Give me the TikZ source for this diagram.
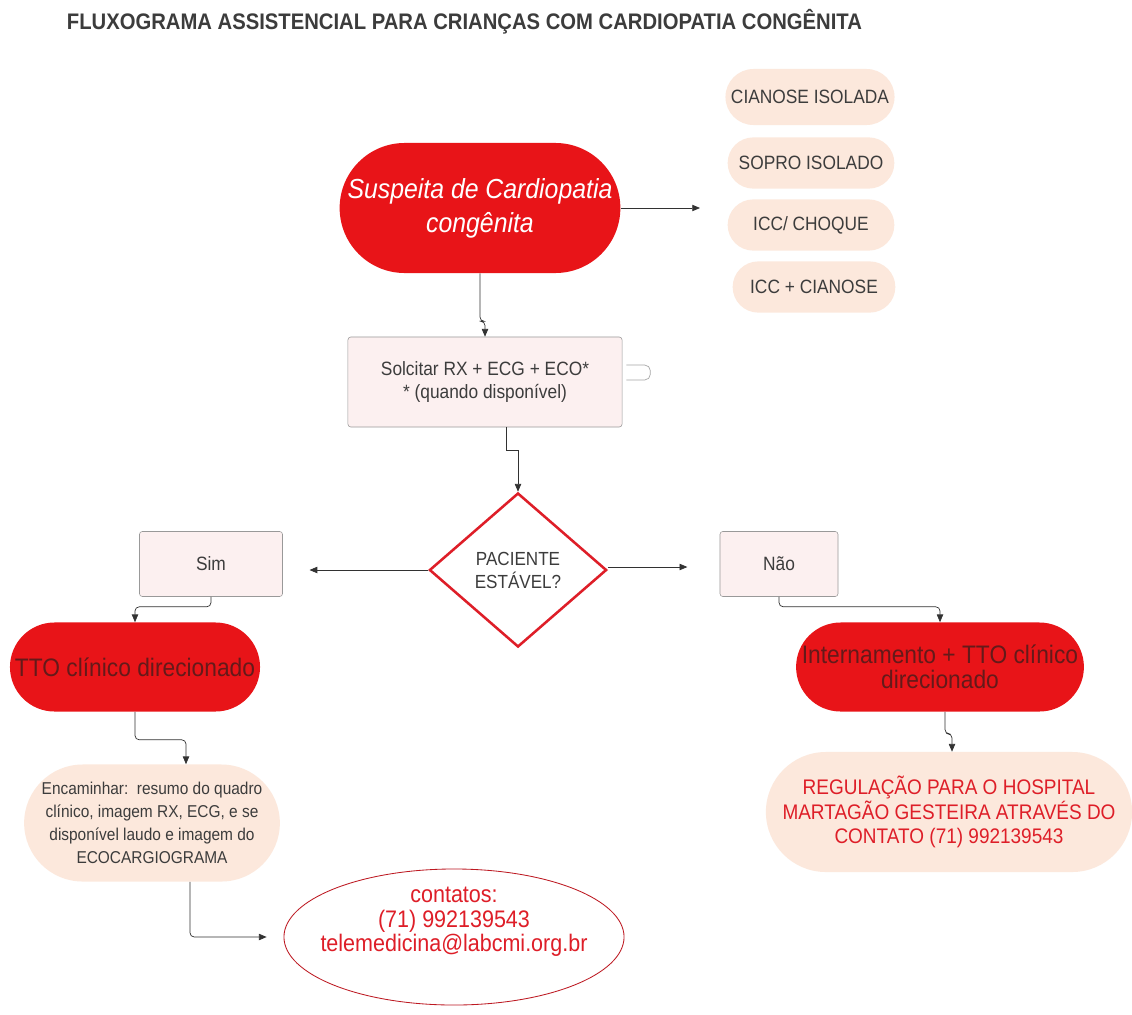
\documentclass[tikz,border=0pt]{standalone}
\usepackage{fontspec}
\setmainfont{Liberation Sans}[FakeStretch=0.9]
\usetikzlibrary{shapes.misc,shapes.geometric,arrows.meta,calc}

\definecolor{flred}{RGB}{232,20,24}
\definecolor{peach}{RGB}{252,232,220}
\definecolor{boxpink}{RGB}{252,240,240}
\definecolor{darktxt}{RGB}{60,60,60}
\definecolor{darkred}{RGB}{100,26,26}
\definecolor{redtxt}{RGB}{222,30,40}
\definecolor{linegray}{RGB}{50,50,50}

\begin{document}
\begin{tikzpicture}[x=0.025cm,y=-0.025cm,
    conn/.style={draw=linegray, line width=0.5pt, rounded corners=3pt,
        -{Triangle[length=5.5pt,width=4.5pt]}},
    redpill/.style={rounded rectangle, fill=flred, align=center},
    pill/.style={rounded rectangle, fill=peach, text=darktxt, align=center,
        minimum width=4.4cm, minimum height=1.28cm, font=\fontsize{13.7}{16}\selectfont},
    softbox/.style={rectangle, rounded corners=2pt, draw=gray!80, fill=boxpink,
        text=darktxt, align=center, font=\fontsize{13.7}{16.4}\selectfont}]

    % Page frame
    \useasboundingbox[fill=white] (0,0) rectangle (1132,1014);

    % Header
    \node[anchor=west, text=darktxt, font=\bfseries\fontsize{16}{18}\selectfont]
        (title) at (62,22) {FLUXOGRAMA ASSISTENCIAL PARA CRIANÇAS COM CARDIOPATIA CONGÊNITA};

    % Top: suspicion and signs
    \node[redpill, minimum width=7.25cm, minimum height=3.25cm, text=white,
        font=\itshape\fontsize{19.6}{24}\selectfont]
        (susp) at (480,208) {Suspeita de Cardiopatia\\congênita};
    \node[pill, minimum width=4.1cm, minimum height=1.4cm] (cianose) at (810,97) {CIANOSE ISOLADA};
    \node[pill] (sopro) at (811,163) {SOPRO ISOLADO};
    \node[pill] (choque) at (811,225) {ICC/ CHOQUE};
    \node[pill, minimum width=4.3cm] (icccian) at (814,287) {ICC + CIANOSE};
    \coordinate (signs) at (700,208);

    % Exams and decision
    \node[softbox, minimum width=6.85cm, minimum height=2.25cm]
        (exames) at (485,382) {Solcitar RX + ECG + ECO*\\* (quando disponível)};
    \node[diamond, draw=redtxt, line width=1.8pt, fill=white, text=darktxt,
        minimum width=4.43cm, minimum height=3.85cm, align=center,
        font=\fontsize{13.5}{16.4}\selectfont]
        (estavel) at (518,570) {PACIENTE\\ESTÁVEL?};
    \coordinate (naoin) at ($(estavel.east)+(0,-3)$);

    % -- left side
    \node[softbox, minimum width=3.575cm, minimum height=1.625cm] (sim) at (211,564) {Sim};
    \node[redpill, minimum width=6.25cm, minimum height=2.225cm, text=darkred,
        inner xsep=0pt, font=\fontsize{18}{17.8}\selectfont]
        (ttoesq) at (135,667) {TTO clínico direcionado};
    \node[redpill, fill=peach, minimum width=6.625cm, minimum height=2.925cm, text=darktxt,
        font=\fontsize{12.2}{16.4}\selectfont]
        (encaminhar) at (152,823) {Encaminhar:\ \ resumo do quadro\\clínico, imagem RX, ECG, e se\\disponível laudo e imagem do\\ECOCARGIOGRAMA};
    \node[ellipse, draw=redtxt!85!black, line width=0.6pt, minimum width=8.5cm, minimum height=3.4cm]
        (contatos) at (454,937) {};
    \node[text=redtxt, align=center, font=\fontsize{17}{17.4}\selectfont]
        (contatostxt) at (454,922) {contatos:\\(71) 992139543\\telemedicina@labcmi.org.br};

    % -- right side
    \node[softbox, minimum width=2.95cm, minimum height=1.625cm] (nao) at (779,564) {Não};
    \node[redpill, minimum width=6.75cm, minimum height=2.225cm, text=darkred,
        inner xsep=0pt, font=\fontsize{18}{17.8}\selectfont]
        (ttodir) at (940,667) {Internamento + TTO clínico\\direcionado};
    \node[redpill, fill=peach, minimum width=9.05cm, minimum height=3cm, text=redtxt,
        font=\fontsize{15}{17.4}\selectfont]
        (regulacao) at (949,812) {REGULAÇÃO PARA O HOSPITAL\\MARTAGÃO GESTEIRA ATRAVÉS DO\\CONTATO (71) 992139543};

    % Connectors
    \draw[conn] (susp.east) -- (signs);
    \draw[conn] (susp.south) -- ++(0,48) -| (exames.north);
    \draw[draw=gray!70, line width=0.5pt, rounded corners=4pt]
        ($(exames.east)+(4,-17)$) -- ++(24,0) -- ++(0,15) -- ++(-24,0);
    \draw[conn, rounded corners=0pt] ($(exames.south)+(21,0)$) -- ++(0,23) -| (estavel.north);
    \draw[conn, shorten >=19pt] (estavel.west) -- (estavel.west -| sim.east);
    \draw[conn, shorten >=23pt] (naoin) -- (naoin -| nao.west);
    \draw[conn] (sim.south) -- ++(0,10) -| (ttoesq.north);
    \draw[conn] (nao.south) -- ++(0,10) -| (ttodir.north);
    \draw[conn] (ttoesq.south) -- ++(0,28) -| ($(encaminhar.north)+(34,0)$);
    \draw[conn] ($(ttodir.south)+(5,0)$) -- ++(0,22) -| ($(regulacao.north)+(3,0)$);
    \draw[conn, shorten >=12pt] ($(encaminhar.south)+(38,0)$) |- (contatos.west);
\end{tikzpicture}
\end{document}
